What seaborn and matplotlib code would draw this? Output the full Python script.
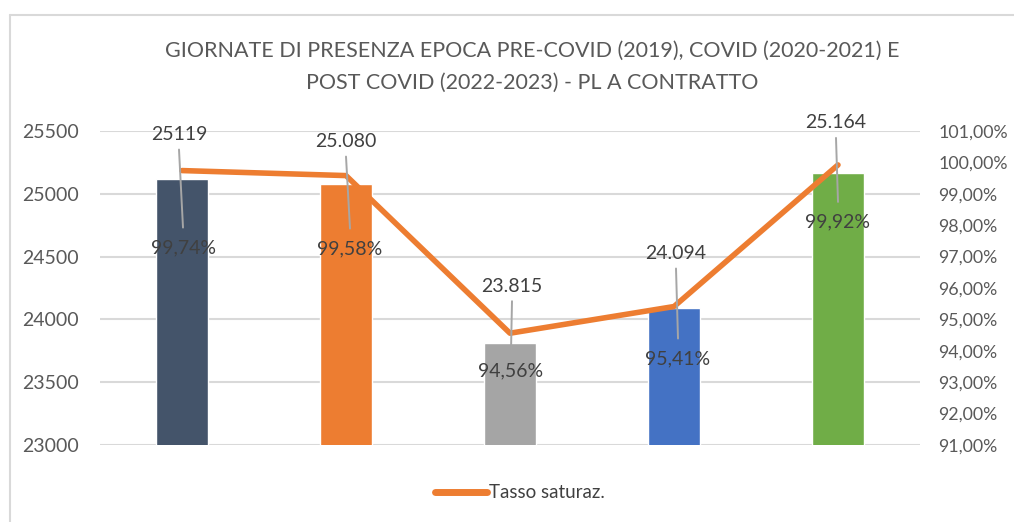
import matplotlib
matplotlib.use('Agg')
import matplotlib.pyplot as plt
import matplotlib.transforms as mtransforms
from matplotlib.lines import Line2D
import seaborn as sns
import pandas as pd

# Data
years = ['2019', '2020', '2021', '2022', '2023']
giornate = [25119, 25080, 23815, 24094, 25164]
giornate_labels = ['25119', '25.080', '23.815', '24.094', '25.164']
tasso = [99.74, 99.58, 94.56, 95.41, 99.92]
tasso_labels = ['99,74%', '99,58%', '94,56%', '95,41%', '99,92%']
bar_colors = ['#44546A', '#ED7D31', '#A5A5A5', '#4472C4', '#70AD47']
left_ticks = [23000, 23500, 24000, 24500, 25000, 25500]
right_ticks = [91, 92, 93, 94, 95, 96, 97, 98, 99, 100, 101]

# label offsets in pixels from the line point (value label, percent label)
val_off = [(-3, 36), (0, 34), (2, 47), (2, 53), (-2, 42)]
pct_off = [(1, -77), (4, -73), (1, -38), (4, -52), (0, -57)]

sns.set_style("white")
plt.rcParams['font.family'] = ['Lato', 'DejaVu Sans']

df = pd.DataFrame({'anno': years, 'giornate': giornate, 'tasso': tasso})

fig = plt.figure(figsize=(10.14, 5.22), dpi=100)
ax = fig.add_axes([100 / 1014, 1 - 445 / 522, 820 / 1014, 314 / 522])

sns.barplot(data=df, x='anno', y='giornate', hue='anno', palette=bar_colors,
            width=0.317, saturation=1, legend=False, ax=ax, zorder=2)
ax.set_ylim(23000, 25500)
ax.set_yticks(left_ticks)
ax.set_yticklabels([str(t) for t in left_ticks], color='#595959', fontsize=14)
ax.set_xticks([])
ax.set_xlabel('')
ax.set_ylabel('')
ax.yaxis.grid(True, color='#D9D9D9', linewidth=1.5, zorder=0)
ax.set_axisbelow(True)
for s in ax.spines.values():
    s.set_visible(False)
ax.tick_params(axis='y', length=0, pad=15)

ax2 = ax.twinx()
sns.lineplot(x=range(len(years)), y=tasso, color='#ED7D31', linewidth=4, ax=ax2,
             zorder=3)
ax2.set_ylim(91, 101)
ax2.set_yticks(right_ticks)
ax2.set_yticklabels([f'{t},00%' for t in right_ticks], color='#595959', fontsize=12.8)
ax2.tick_params(axis='y', length=0, pad=13)
ax.set_xlim(-0.5, len(years) - 0.5)
for s in ax2.spines.values():
    s.set_visible(False)

# data labels with leader lines
for i in range(len(years)):
    vx, vy = val_off[i]
    px, py = pct_off[i]
    ax2.annotate(giornate_labels[i], xy=(i, tasso[i]), xytext=(vx, vy),
                 textcoords='offset pixels', ha='center', va='center',
                 fontsize=14, color='#404040', zorder=5)
    ax2.annotate(tasso_labels[i], xy=(i, tasso[i]), xytext=(px, py),
                 textcoords='offset pixels', ha='center', va='center',
                 fontsize=14, color='#404040', zorder=5)
    t1 = mtransforms.offset_copy(ax2.transData, fig=fig, x=vx, y=vy - 15, units='dots')
    t2 = mtransforms.offset_copy(ax2.transData, fig=fig, x=px, y=py + 20, units='dots')
    p1 = t1.transform((i, tasso[i]))
    p2 = t2.transform((i, tasso[i]))
    fig.add_artist(Line2D([p1[0] / 1014, p2[0] / 1014], [p1[1] / 522, p2[1] / 522],
                          transform=fig.transFigure, color='#A6A6A6', linewidth=1.4,
                          zorder=6))

# title
fig.text(532 / 1014, 1 - 67 / 522,
         'GIORNATE DI PRESENZA EPOCA PRE-COVID (2019), COVID (2020-2021) E\n'
         'POST COVID (2022-2023) - PL A CONTRATTO',
         ha='center', va='center', fontsize=15.5, color='#595959',
         linespacing=1.75)

# legend
handle = Line2D([0], [0], color='#ED7D31', linewidth=5, solid_capstyle='round')
fig.legend([handle], ['Tasso saturaz.'], loc='center', bbox_to_anchor=(520 / 1014, 1 - 493 / 522),
           frameon=False, fontsize=13.5, handlelength=2.8, handletextpad=0.1,
           labelcolor='#404040')

# chart frame (left and top edges visible)
fig.add_artist(Line2D([10 / 1014, 10 / 1014], [0, 1 - 15 / 522], transform=fig.transFigure,
                      color='#D9D9D9', linewidth=1.5))
fig.add_artist(Line2D([10 / 1014, 1], [1 - 15 / 522, 1 - 15 / 522], transform=fig.transFigure,
                      color='#D9D9D9', linewidth=1.5))

plt.savefig('out.png', dpi=100)
